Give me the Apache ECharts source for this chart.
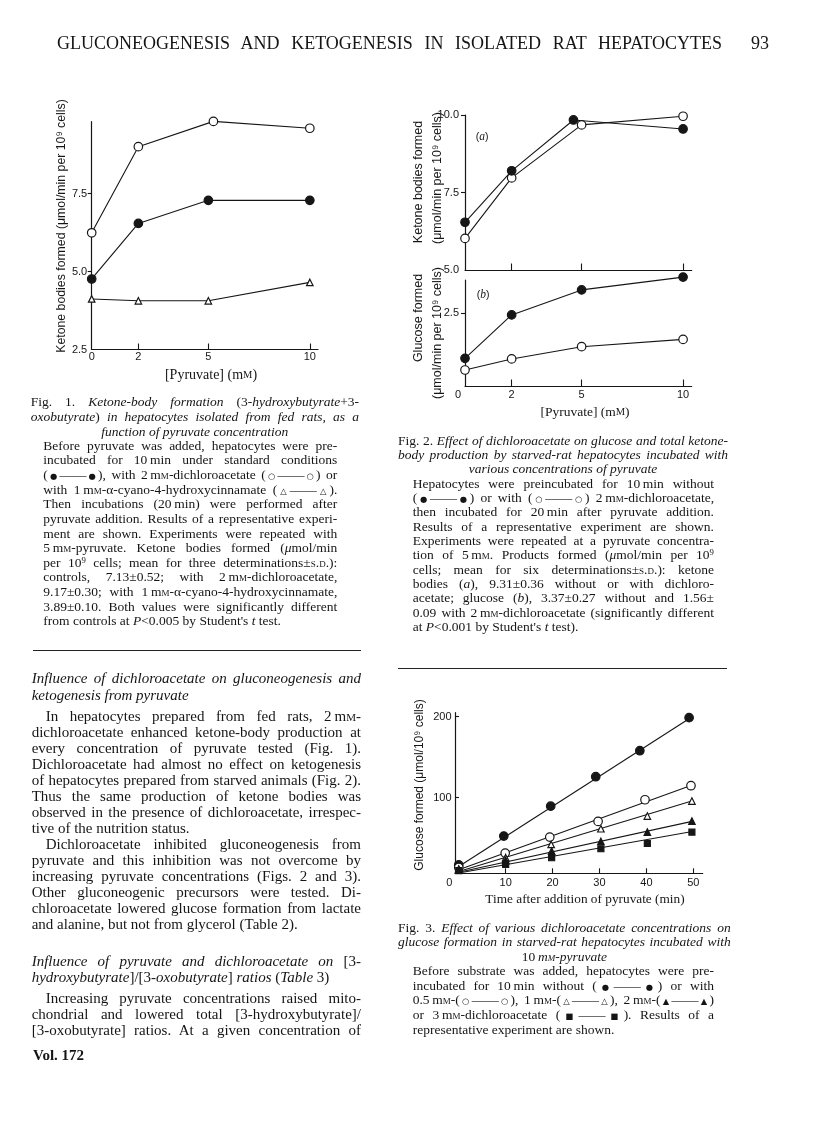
<!DOCTYPE html>
<html>
<head>
<meta charset="utf-8">
<script src="https://cdn.jsdelivr.net/npm/echarts@6.0.0/dist/echarts.min.js"></script>
<style>
  html, body { margin: 0; padding: 0; background: #fff; }
  #page { position: relative; width: 816px; height: 1136px; overflow: hidden; background: #fff; }
  #chart { position: absolute; left: 0; top: 0; width: 816px; height: 1136px; }
  .ln { position: absolute; font-family: "Liberation Serif", "Times New Roman", serif; color: #151515; overflow: visible; }
  .j { text-align: justify; text-align-last: justify; }
  .c { text-align: center; }
  .sc { font-variant: small-caps; }
  .sym { font-family: "DejaVu Sans", sans-serif; font-size: 0.62em; }
  sup { font-size: 0.65em; vertical-align: 0.5em; line-height: 0; }
  .rule { position: absolute; height: 0; border-top: 1.4px solid #222; }
</style>
</head>
<body>
<div id="page">
  <div id="chart"></div>
</div>
<script>
// ---- data ----
var pyruvate = [0, 2, 5, 10];               // mM

// Fig. 1 ketone bodies, fed rats
var fig1Control = [4.76, 6.54, 7.28, 7.28];
var fig1Dca = [6.24, 9.0, 9.81, 9.59];
var fig1DcaX = [0, 2, 5.25, 10];            // plotted a bit right of 5 in the print
var fig1Cyano = [4.12, 4.06, 4.06, 4.65];

// Fig. 2 starved rats
var fig2aControl = [6.54, 8.2, 9.84, 9.55];
var fig2aControlX = [0, 2, 4.65, 10];
var fig2aDca = [6.02, 7.97, 9.68, 9.96];
var fig2bControl = [0.95, 2.44, 3.30, 3.74];
var fig2bDca = [0.55, 0.93, 1.35, 1.60];

// Fig. 3 glucose vs time
var fig3Control = [[0, 17], [9.6, 52.6], [19.6, 89.6], [29.2, 125.9], [38.6, 158], [49.1, 198.8]];
var fig3Dca05 = [[0, 14], [9.9, 31.6], [19.4, 51.4], [29.7, 70.7], [39.7, 97.5], [49.5, 114.8]];
var fig3Dca1 = [[0, 12], [10, 26], [19.7, 42.3], [30.3, 61.7], [40.2, 77.3], [49.7, 95.8]];
var fig3Dca2 = [[0, 11], [10, 22.6], [19.8, 34.1], [30.3, 46], [40.2, 57.5], [49.7, 71.1]];
var fig3Dca3 = [[0, 10], [10, 17.7], [19.8, 25.9], [30.3, 37], [40.2, 43.5], [49.7, 57.5]];
// fitted straight lines: value at t=0 and at the end time
var fig3LineStart = [15, 11, 9, 8, 7];
var fig3LineEnd = [199, 115, 95.5, 70.5, 58];
var fig3LineEndTime = 49.5;

var fig1YTicks = [2.5, 5, 7.5];
var fig2aYTicks = [5, 7.5, 10];
var fig2bYTicks = [2.5];
var fig3XTicks = [0, 10, 20, 30, 40, 50];
var fig3YTicks = [100, 200];

var INK = '#161616';
var SANS = '"Liberation Sans", Arial, sans-serif';
var SERIF = '"Liberation Serif", "Times New Roman", serif';
var TICK_FONT = 11;

// the printed pyruvate axis is not linear: 0-5 mM evenly, 5-10 mM squeezed
function pyrPos(v) { return v <= 5 ? v : 5 + (v - 5) * 0.87; }
function pyrVal(p) { return p <= 5 ? p : Math.round(5 + (p - 5) / 0.87); }

function axis(gi, o) {
  return {
    type: 'value', gridIndex: gi, min: o.min, max: o.max,
    axisLine: { show: true, onZero: false, lineStyle: { color: INK, width: 1.2 } },
    axisTick: { show: true, inside: o.inside, length: o.tickLen, customValues: o.ticks,
      lineStyle: { color: INK, width: 1.1 } },
    axisLabel: { show: !!o.labels, customValues: o.labels || [], formatter: o.fmt, margin: o.margin,
      color: INK, fontSize: TICK_FONT, fontFamily: SANS, rich: o.rich },
    splitLine: { show: false }
  };
}

function zeroShift(px) {
  return { z: { fontSize: TICK_FONT, fontFamily: SANS, color: INK, padding: [0, px, 0, 0] } };
}

function curve(gi, xs, ys, shape, filled, size, lineOn) {
  return {
    type: lineOn ? 'line' : 'scatter', xAxisIndex: gi, yAxisIndex: gi,
    data: xs.map(function (x, i) { return [x, ys[i]]; }),
    symbol: shape, symbolSize: size, showSymbol: true, clip: false, silent: true, z: 3,
    lineStyle: { color: INK, width: 1.1 },
    itemStyle: { color: filled ? INK : '#fff', borderColor: INK, borderWidth: 1.2, opacity: 1 }
  };
}

function pts(gi, arr, shape, filled, size) {
  return {
    type: 'scatter', xAxisIndex: gi, yAxisIndex: gi, data: arr,
    symbol: shape, symbolSize: size, clip: false, silent: true, z: 4,
    itemStyle: { color: filled ? INK : '#fff', borderColor: INK, borderWidth: 1.2, opacity: 1 }
  };
}

function fitLine(gi, i) {
  return {
    type: 'line', xAxisIndex: gi, yAxisIndex: gi, showSymbol: false, symbol: 'none',
    data: [[0, fig3LineStart[i]], [fig3LineEndTime, fig3LineEnd[i]]],
    lineStyle: { color: INK, width: 1.1 }, clip: false, silent: true, z: 2
  };
}

function txt(x, y, text, size, family, rot, extra) {
  var st = { text: text, fontSize: size, fontFamily: family, fill: INK, align: 'center', verticalAlign: 'middle' };
  for (var k in extra || {}) st[k] = extra[k];
  return { type: 'text', x: x, y: y, rotation: rot || 0, silent: true, style: st };
}

var UP = Math.PI / 2;
var scRich = { sc: { fontSize: 10.5, fontFamily: SERIF, fill: INK } };
var itRich = { i: { fontStyle: 'italic', fontFamily: SERIF, fontSize: 11.5, fill: INK } };

var chart = echarts.init(document.getElementById('chart'), null, { width: 816, height: 1136 });

var pyrFmt = function (v) { return String(pyrVal(v)); };
var pyrTicks = [pyrPos(2), pyrPos(5), pyrPos(10)];
var pyrLabels = pyruvate.map(pyrPos);

chart.setOption({
  animation: false,
  backgroundColor: 'transparent',
  grid: [
    { left: 91.7, top: 121.7, width: 226.3, height: 227.8 },
    { left: 465, top: 115, width: 226.7, height: 155 },
    { left: 465, top: 280, width: 226.7, height: 106 },
    { left: 455, top: 712.7, width: 247.7, height: 160.6 }
  ],
  xAxis: [
    axis(0, { min: 0, max: 9.7, inside: true, tickLen: 6, ticks: pyrTicks, labels: pyrLabels, fmt: pyrFmt, margin: 2 }),
    axis(1, { min: 0, max: 9.72, inside: true, tickLen: 6.5, ticks: pyrTicks }),
    axis(2, { min: 0, max: 9.72, inside: true, tickLen: 6.5, ticks: pyrTicks, labels: pyrLabels, margin: 3.5,
      fmt: function (v) { return v === 0 ? '{z|0}' : pyrFmt(v); }, rich: zeroShift(14) }),
    axis(3, { min: -0.8, max: 52, inside: true, tickLen: 5, ticks: fig3XTicks.slice(1), labels: fig3XTicks, margin: 4.5,
      fmt: function (v) { return v === 0 ? '{z|0}' : String(v); }, rich: zeroShift(19) })
  ],
  yAxis: [
    axis(0, { min: 2.5, max: 9.8, inside: false, tickLen: 4, ticks: [5, 7.5], labels: fig1YTicks, margin: 4.5,
      fmt: function (v) { return v.toFixed(1); } }),
    axis(1, { min: 5, max: 10, inside: false, tickLen: 4, ticks: [7.5, 10], labels: fig2aYTicks, margin: 6,
      fmt: function (v) { return v.toFixed(1); } }),
    axis(2, { min: 0, max: 3.64, inside: false, tickLen: 4, ticks: fig2bYTicks, labels: fig2bYTicks, margin: 6,
      fmt: function (v) { return v.toFixed(1); } }),
    axis(3, { min: 6.7, max: 204.9, inside: true, tickLen: 4, ticks: fig3YTicks, labels: fig3YTicks, margin: 3.5,
      fmt: function (v) { return String(v); } })
  ],
  series: [
    curve(0, pyruvate.map(pyrPos), fig1Cyano, 'triangle', false, 6.5, true),
    curve(0, pyruvate.map(pyrPos), fig1Control, 'circle', true, 8.5, true),
    curve(0, fig1DcaX.map(pyrPos), fig1Dca, 'circle', false, 8.5, true),

    curve(1, pyruvate.map(pyrPos), fig2aDca, 'circle', false, 8.5, true),
    curve(1, fig2aControlX.map(pyrPos), fig2aControl, 'circle', true, 8.5, true),
    curve(2, pyruvate.map(pyrPos), fig2bDca, 'circle', false, 8.5, true),
    curve(2, pyruvate.map(pyrPos), fig2bControl, 'circle', true, 8.5, true),

    fitLine(3, 0), fitLine(3, 1), fitLine(3, 2), fitLine(3, 3), fitLine(3, 4),
    pts(3, fig3Control, 'circle', true, 8.5),
    pts(3, fig3Dca05, 'circle', false, 8.5),
    pts(3, fig3Dca1, 'triangle', false, 6.5),
    pts(3, fig3Dca2, 'triangle', true, 6.5),
    pts(3, fig3Dca3, 'rect', true, 6)
  ],
  graphic: [
    txt(62, 226, 'Ketone bodies formed (\u03bcmol/min per 10\u2079 cells)', 12.3, SANS, UP),
    txt(211, 375, '[Pyruvate] (m{sc|M})', 14, SERIF, 0, { rich: scRich }),

    txt(419, 182, 'Ketone bodies formed', 12.5, SANS, UP),
    txt(438, 178, '(\u03bcmol/min per 10\u2079 cells)', 12.5, SANS, UP),
    txt(419, 318, 'Glucose formed', 12.5, SANS, UP),
    txt(438, 333, '(\u03bcmol/min per 10\u2079 cells)', 12.5, SANS, UP),
    txt(482, 137, '({i|a})', 10.5, SANS, 0, { rich: itRich }),
    txt(483, 295, '({i|b})', 10.5, SANS, 0, { rich: itRich }),
    txt(585, 412.7, '[Pyruvate] (m{sc|M})', 13.5, SERIF, 0, { rich: scRich }),

    txt(420, 785, 'Glucose formed (\u03bcmol/10\u2079 cells)', 12, SANS, UP),
    txt(585, 900, 'Time after addition of pyruvate (min)', 13.3, SERIF)
  ]
});

// ---- page text around the figures ----
var page = document.getElementById('page');

function fmt(s) {
  return s.replace(/mM/g, 'm<span class="sc">m</span>')
    .replace(/S\.D\./g, '<span class="sc">s.d.</span>')
    .replace(/([●○△▲■])/g, '<span class="sym">$1</span>')
    .replace(/μ/g, '<i>μ</i>');
}

function block(lines, x, w, y0, step, size) {
  lines.forEach(function (l, i) {
    var d = document.createElement('div');
    var ind = l[2] || 0;
    d.className = 'ln ' + (l[0] === 'j' ? 'j' : l[0] === 'c' ? 'c' : '');
    d.style.left = (x + ind) + 'px';
    d.style.width = (w - ind) + 'px';
    d.style.top = (y0 + i * step - step / 2) + 'px';
    d.style.height = step + 'px';
    d.style.lineHeight = step + 'px';
    d.style.fontSize = size + 'px';
    d.innerHTML = fmt(l[1]);
    page.appendChild(d);
  });
}

function rule(x, y, w) {
  var d = document.createElement('div');
  d.className = 'rule';
  d.style.left = x + 'px'; d.style.top = y + 'px'; d.style.width = w + 'px';
  page.appendChild(d);
}

var T = '\u2009';

block([['j', 'GLUCONEOGENESIS AND KETOGENESIS IN ISOLATED RAT HEPATOCYTES']], 57, 665, 43, 22, 18);
block([['l', '93']], 751, 30, 43, 22, 18);

// Fig. 1 legend
block([
  ['j', 'Fig. 1. <i>Ketone-body formation</i> (3-<i>hydroxybutyrate</i>+3-'],
  ['j', '<i>oxobutyrate</i>) <i>in hepatocytes isolated from fed rats, as a</i>'],
  ['c', '<i>function of pyruvate concentration</i>']
], 30.7, 328.3, 401.7, 15, 13.5);
block([
  ['j', 'Before pyruvate was added, hepatocytes were pre-'],
  ['j', 'incubated for 10' + T + 'min under standard conditions'],
  ['j', '(●——●), with 2' + T + 'mM-dichloroacetate (○——○) or'],
  ['j', 'with 1' + T + 'mM-α-cyano-4-hydroxycinnamate (△——△).'],
  ['j', 'Then incubations (20' + T + 'min) were performed after'],
  ['j', 'pyruvate addition. Results of a representative experi-'],
  ['j', 'ment are shown. Experiments were repeated with'],
  ['j', '5' + T + 'mM-pyruvate. Ketone bodies formed (μmol/min'],
  ['j', 'per 10<sup>9</sup> cells; mean for three determinations±S.D.):'],
  ['j', 'controls, 7.13±0.52; with 2' + T + 'mM-dichloroacetate,'],
  ['j', '9.17±0.30; with 1' + T + 'mM-α-cyano-4-hydroxycinnamate,'],
  ['j', '3.89±0.10. Both values were significantly different'],
  ['l', 'from controls at <i>P</i>&lt;0.005 by Student\'s <i>t</i> test.']
], 43.3, 294, 446, 14.64, 13.5);

rule(33, 650, 328);

// left column prose
block([
  ['j', '<i>Influence of dichloroacetate on gluconeogenesis and</i>'],
  ['l', '<i>ketogenesis from pyruvate</i>']
], 31.7, 329.3, 678.3, 16.4, 15);
block([
  ['j', 'In hepatocytes prepared from fed rats, 2' + T + 'mM-', 14],
  ['j', 'dichloroacetate enhanced ketone-body production at'],
  ['j', 'every concentration of pyruvate tested (Fig. 1).'],
  ['j', 'Dichloroacetate had almost no effect on ketogenesis'],
  ['j', 'of hepatocytes prepared from starved animals (Fig. 2).'],
  ['j', 'Thus the same production of ketone bodies was'],
  ['j', 'observed in the presence of dichloroacetate, irrespec-'],
  ['l', 'tive of the nutrition status.'],
  ['j', 'Dichloroacetate inhibited gluconeogenesis from', 14],
  ['j', 'pyruvate and this inhibition was not overcome by'],
  ['j', 'increasing pyruvate concentrations (Figs. 2 and 3).'],
  ['j', 'Other gluconeogenic precursors were tested. Di-'],
  ['j', 'chloroacetate lowered glucose formation from lactate'],
  ['l', 'and alanine, but not from glycerol (Table 2).']
], 31.7, 329.3, 715.7, 16.02, 15);
block([
  ['j', '<i>Influence of pyruvate and dichloroacetate on</i> [3-'],
  ['l', '<i>hydroxybutyrate</i>]/[3-<i>oxobutyrate</i>] <i>ratios</i> (<i>Table</i> 3)']
], 31.7, 329.3, 960.7, 16, 15);
block([
  ['j', 'Increasing pyruvate concentrations raised mito-', 14],
  ['j', 'chondrial and lowered total [3-hydroxybutyrate]/'],
  ['j', '[3-oxobutyrate] ratios. At a given concentration of']
], 31.7, 329.3, 997.7, 16, 15);
block([['l', '<b>Vol. 172</b>']], 33, 120, 1055, 18, 15);

// Fig. 2 legend
block([
  ['j', 'Fig. 2. <i>Effect of dichloroacetate on glucose and total ketone-</i>'],
  ['j', '<i>body production by starved-rat hepatocytes incubated with</i>'],
  ['c', '<i>various concentrations of pyruvate</i>']
], 398, 330, 440.7, 14.4, 13.5);
block([
  ['j', 'Hepatocytes were preincubated for 10' + T + 'min without'],
  ['j', '(●——●) or with (○——○) 2' + T + 'mM-dichloroacetate,'],
  ['j', 'then incubated for 20' + T + 'min after pyruvate addition.'],
  ['j', 'Results of a representative experiment are shown.'],
  ['j', 'Experiments were repeated at a pyruvate concentra-'],
  ['j', 'tion of 5' + T + 'mM. Products formed (μmol/min per 10<sup>9</sup>'],
  ['j', 'cells; mean for six determinations±S.D.): ketone'],
  ['j', 'bodies (<i>a</i>), 9.31±0.36 without or with dichloro-'],
  ['j', 'acetate; glucose (<i>b</i>), 3.37±0.27 without and 1.56±'],
  ['j', '0.09 with 2' + T + 'mM-dichloroacetate (significantly different'],
  ['l', 'at <i>P</i>&lt;0.001 by Student\'s <i>t</i> test).']
], 412.7, 301.3, 484, 14.3, 13.5);

rule(398, 668, 329);

// Fig. 3 legend
block([
  ['j', 'Fig. 3. <i>Effect of various dichloroacetate concentrations on</i>'],
  ['j', '<i>glucose formation in starved-rat hepatocytes incubated with</i>'],
  ['c', '10' + T + '<i>mM-pyruvate</i>']
], 398, 332.7, 928, 14.6, 13.5);
block([
  ['j', 'Before substrate was added, hepatocytes were pre-'],
  ['j', 'incubated for 10' + T + 'min without (●——●) or with'],
  ['j', '0.5' + T + 'mM-(○——○), 1' + T + 'mM-(△——△), 2' + T + 'mM-(▲——▲)'],
  ['j', 'or 3' + T + 'mM-dichloroacetate (■——■). Results of a'],
  ['l', 'representative experiment are shown.']
], 412.7, 301.3, 971.5, 14.6, 13.5);
</script>
</body>
</html>
